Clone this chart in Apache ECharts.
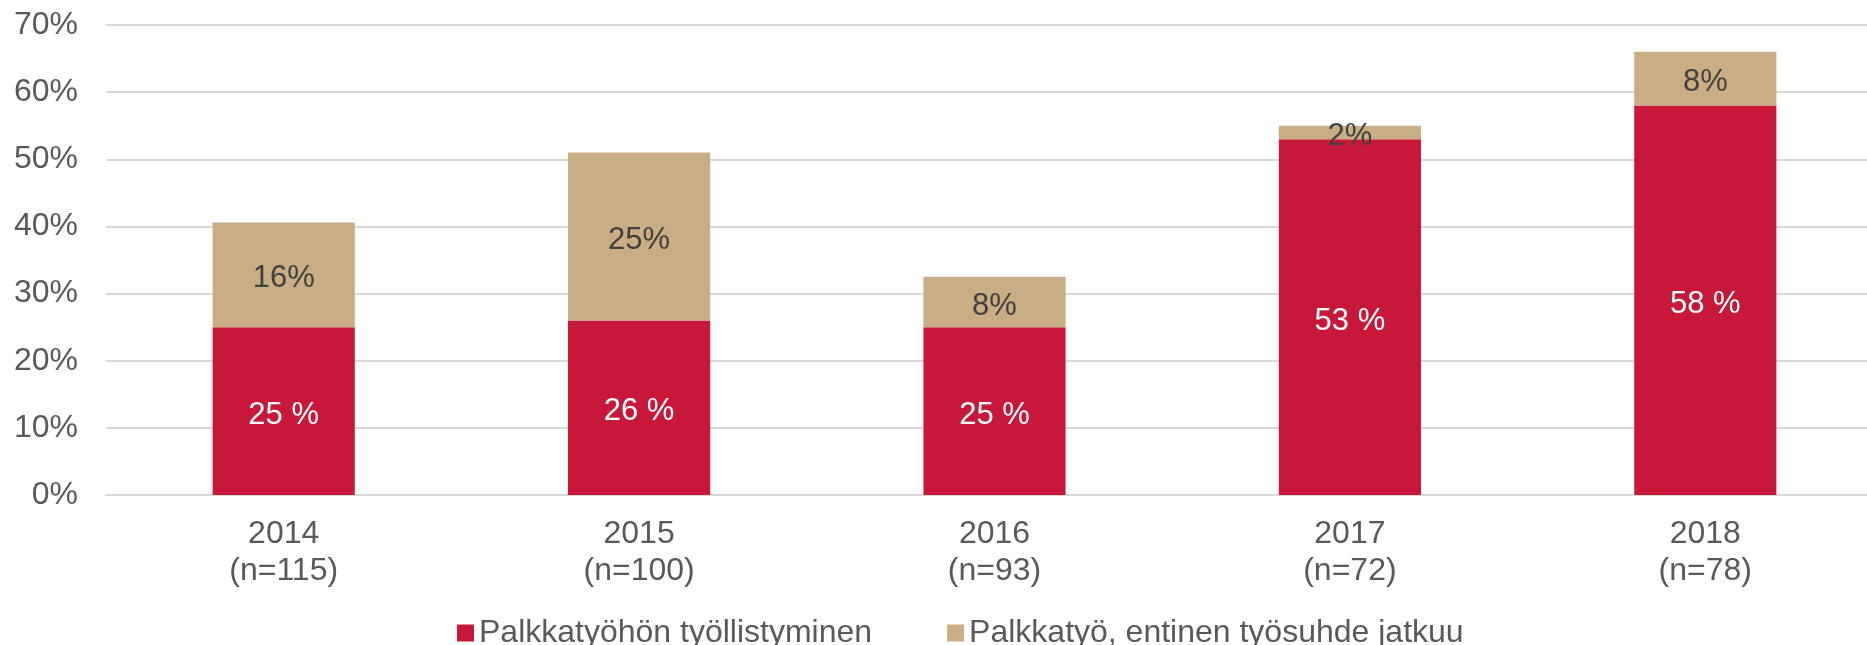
<!DOCTYPE html>
<html>
<head>
<meta charset="utf-8">
<script src="https://cdn.jsdelivr.net/npm/echarts@6/dist/echarts.min.js"></script>
<style>
  html, body { margin: 0; padding: 0; background: #fff; }
  #chart { width: 1867px; height: 645px; }
</style>
</head>
<body>
<div id="chart"></div>
<script>
const years = ["2014", "2015", "2016", "2017", "2018"];
const sampleSizes = ["(n=115)", "(n=100)", "(n=93)", "(n=72)", "(n=78)"];
const seriesNames = ["Palkkatyöhön työllistyminen", "Palkkatyö, entinen työsuhde jatkuu"];
const employed = [25, 26, 25, 53, 58];
const continued = [15.6, 25, 7.5, 2, 8];

const font = "'Liberation Sans', Arial, sans-serif";

const chart = echarts.init(document.getElementById("chart"), null, { renderer: "canvas" });
chart.setOption({
    animation: false,
    // plot area runs a bit past the right edge, like the original
    grid: { left: 106, right: -16, top: 25, bottom: 150, outerBoundsMode: "none" },
    legend: {
        left: 452,
        top: 612,
        itemWidth: 17,
        itemHeight: 17,
        itemGap: 75,
        icon: "rect",
        textStyle: { fontFamily: font, fontSize: 32, color: "#595959" },
        data: seriesNames
    },
    xAxis: {
        type: "category",
        data: years.map((y, i) => y + "\n" + sampleSizes[i]),
        axisLine: { show: true, lineStyle: { color: "#D9D9D9", width: 2 } },
        axisTick: { show: false },
        axisLabel: { fontFamily: font, fontSize: 32, color: "#595959", lineHeight: 37, margin: 21 }
    },
    yAxis: {
        type: "value",
        min: 0,
        max: 70,
        interval: 10,
        axisLine: { show: false },
        axisTick: { show: false },
        splitLine: { lineStyle: { color: "#D9D9D9", width: 2 } },
        axisLabel: { fontFamily: font, fontSize: 32, color: "#595959", margin: 28, formatter: "{value}%" }
    },
    series: [
        {
            name: seriesNames[0],
            type: "bar",
            stack: "total",
            barWidth: "40%",
            data: employed,
            itemStyle: { color: "#C8183A" },
            label: {
                show: true,
                position: "inside",
                offset: [0, 4],
                fontFamily: font,
                fontSize: 31,
                color: "#FFFFFF",
                formatter: p => Math.round(p.value) + " %"
            }
        },
        {
            name: seriesNames[1],
            type: "bar",
            stack: "total",
            barWidth: "40%",
            data: continued,
            itemStyle: { color: "#C9AE85" },
            label: {
                show: true,
                position: "inside",
                offset: [0, 4],
                fontFamily: font,
                fontSize: 31,
                color: "#404040",
                formatter: p => Math.round(p.value) + "%"
            }
        }
    ]
});
</script>
</body>
</html>
